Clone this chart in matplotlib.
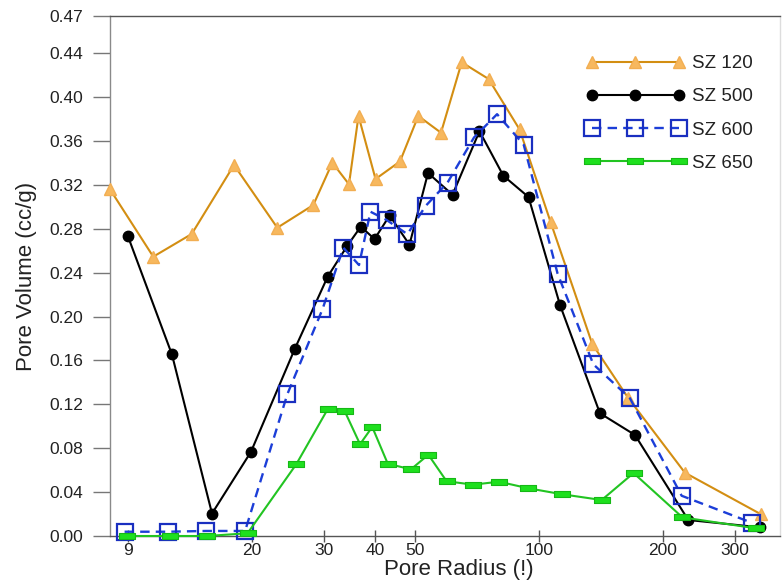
import matplotlib
matplotlib.use("Agg")
import matplotlib.pyplot as plt

plt.rcParams['font.family'] = ['Liberation Sans', 'DejaVu Sans']

# ---- data ----
x_sz120 = [9.04, 11.52, 14.29, 18.11, 23.08, 28.24, 31.42, 34.49, 36.38, 40.02, 45.9,
           50.85, 57.75, 64.86, 75.4, 89.7, 106.8, 134.8, 164.6, 226.5, 346.9]
y_sz120 = [0.316, 0.2546, 0.2753, 0.3382, 0.281, 0.3017, 0.3403, 0.3206, 0.3829, 0.3254, 0.3414,
           0.3829, 0.3676, 0.4318, 0.4166, 0.3706, 0.2858, 0.175, 0.1262, 0.0577, 0.0198]

x_sz500 = [9.98, 12.79, 16.01, 19.92, 25.48, 30.61, 34.17, 36.85, 39.8, 43.32, 48.4,
           53.7, 61.6, 71.65, 81.9, 94.3, 112.5, 140.7, 171.2, 230.8, 344.9]
y_sz500 = [0.2739, 0.1655, 0.0205, 0.0768, 0.1709, 0.2364, 0.2646, 0.2820, 0.2707, 0.2922, 0.2655,
           0.3309, 0.3111, 0.369, 0.3284, 0.309, 0.2106, 0.1119, 0.0921, 0.0146, 0.0079]

x_sz600 = [9.81, 12.49, 15.48, 19.27, 24.42, 29.73, 33.41, 36.48, 38.9, 42.6, 47.86,
           52.97, 59.9, 69.5, 79.07, 91.8, 111.0, 135.6, 166.5, 222.4, 329.3]
y_sz600 = [0.0039, 0.0039, 0.0046, 0.0046, 0.1293, 0.2067, 0.2628, 0.247, 0.2956, 0.288, 0.2751,
           0.3008, 0.3221, 0.3633, 0.3845, 0.3567, 0.2391, 0.1565, 0.1255, 0.0367, 0.0121]

x_sz650 = [9.93, 12.65, 15.54, 19.54, 25.67, 30.61, 33.68, 36.69, 39.29, 42.87, 48.82,
           53.8, 59.6, 69.2, 79.9, 94.2, 113.6, 142.1, 169.9, 223.4, 336.9]
y_sz650 = [0.0, 0.0, 0.0, 0.0025, 0.0654, 0.1156, 0.1137, 0.0837, 0.0994, 0.0658, 0.0608,
           0.0741, 0.0499, 0.0468, 0.0495, 0.0435, 0.0381, 0.0328, 0.0574, 0.017, 0.007]

series_labels = ["SZ 120", "SZ 500", "SZ 600", "SZ 650"]

xtick_pos = [10, 20, 30, 40, 50, 100, 200, 300]
xtick_labels = ["9", "20", "30", "40", "50", "100", "200", "300"]
ytick_pos = [0.00, 0.04, 0.08, 0.12, 0.16, 0.20, 0.24, 0.28, 0.32, 0.36, 0.40, 0.44, 0.474]
ytick_labels = ["0.00", "0.04", "0.08", "0.12", "0.16", "0.20", "0.24", "0.28",
                "0.32", "0.36", "0.40", "0.44", "0.47"]

# ---- figure ----
fig = plt.figure(figsize=(7.82, 5.86), dpi=100)
ax = fig.add_axes([110/782, 50/586, 670/782, 520/586])

rect_marker = [(-1.5, -0.5), (1.5, -0.5), (1.5, 0.5), (-1.5, 0.5), (-1.5, -0.5)]

ax.plot(x_sz120, y_sz120, color="#D38E12", lw=1.5, marker="^", ms=9,
        mfc="#F7B85E", mec="#F2AE52", label=series_labels[0], zorder=3, clip_on=False)
ax.plot(x_sz500, y_sz500, color="black", lw=1.5, marker="o", ms=7.5,
        mfc="black", mec="black", label=series_labels[1], zorder=4, clip_on=False)
ax.plot(x_sz600, y_sz600, color="#1C3ED8", lw=1.7, ls=(0, (4, 2.6)), marker="s", ms=11,
        mfc="none", mec="#1A2FC0", mew=1.6, label=series_labels[2], zorder=5, clip_on=False)
ax.plot(x_sz650, y_sz650, color="#22C422", lw=1.5, marker=rect_marker, ms=11,
        mfc="#1EE01E", mec="#16B816", mew=0.8, label=series_labels[3], zorder=6, clip_on=False)

ax.set_xscale("log")
ax.set_xlim(9.04, 385.9)
ax.set_ylim(0, 0.474)

ax.set_xticks(xtick_pos)
ax.set_xticklabels(xtick_labels)
ax.xaxis.set_minor_locator(matplotlib.ticker.NullLocator())
ax.set_yticks(ytick_pos)
ax.set_yticklabels(ytick_labels)

ax.tick_params(axis="y", direction="out", length=12, width=1, color="#777777",
               labelsize=12.5, pad=7, labelcolor="#222222")
ax.tick_params(axis="x", direction="inout", length=8, width=1, color="#555555",
               labelsize=12.5, pad=1, labelcolor="#222222")

ax.spines["left"].set_color("#8a8a8a")
ax.spines["bottom"].set_color("#555555")
ax.spines["top"].set_color("#555555")
ax.spines["right"].set_color("#dddddd")
for s in ax.spines.values():
    s.set_linewidth(1.0)

ax.set_xlabel("Pore Radius (!)", fontsize=16, labelpad=0, color="#222222")
ax.set_ylabel("Pore Volume (cc/g)", fontsize=16, labelpad=9, color="#222222")
ax.xaxis.set_label_coords(0.52, -0.045)

leg = ax.legend(loc="upper left", bbox_to_anchor=(0.7115, 0.925), frameon=False,
                numpoints=3, handlelength=5.2, handletextpad=0.4, labelspacing=0.86,
                fontsize=13.5, borderpad=0, borderaxespad=0)
for t in leg.get_texts():
    t.set_color("#222222")

fig.savefig("out.png", dpi=100)
